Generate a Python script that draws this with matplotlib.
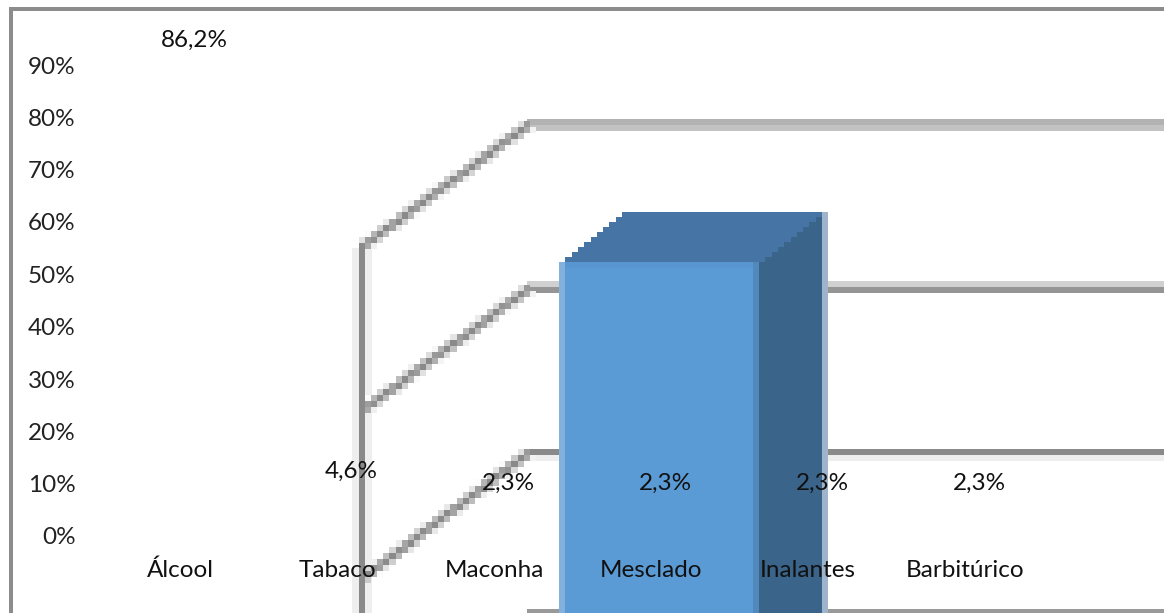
import matplotlib
matplotlib.use('Agg')
import numpy as np
from matplotlib import pyplot as plt
from matplotlib.patches import Polygon, Rectangle
from matplotlib.transforms import Affine2D

# Data
categories = ['Álcool', 'Tabaco', 'Maconha', 'Mesclado', 'Inalantes', 'Barbitúrico']
values = [86.2, 4.6, 2.3, 2.3, 2.3, 2.3]
y_ticks = [0, 10, 20, 30, 40, 50, 60, 70, 80, 90]
y_tick_labels = ['0%', '10%', '20%', '30%', '40%', '50%', '60%', '70%', '80%', '90%']

# The stray 3D box sits around Mesclado and runs off the bottom of the picture
box_position = 3.051
box_width = 1.274
box_top = 52.4
box_bottom = -15.0

W, H = 1164, 613
plt.rcParams['font.family'] = ['Lato', 'DejaVu Sans']
plt.rcParams['font.size'] = 17.5

fig = plt.figure(figsize=(W / 100, H / 100), dpi=100)
# Category 0 sits at x=180 px, spacing 157 px; 0% at y=536 px, 90% at y=65 px
ax = fig.add_axes([101.5 / W, (H - 536) / H, 942 / W, 471 / H])
ax.patch.set_alpha(0)
ax.set_xlim(-0.5, 5.5)
ax.set_ylim(0, 90)

# Wall and depth pieces are positioned in image pixels
px = Affine2D().scale(1, -1).translate(0, H)


def px_rect(x0, y0, x1, y1, color, z=1.0):
    ax.add_patch(Rectangle((x0, y0), x1 - x0, y1 - y0, transform=px, facecolor=color,
                           edgecolor='none', clip_on=False, zorder=z))


def px_poly(points, color, z=1.1):
    ax.add_patch(Polygon(points, closed=True, transform=px, facecolor=color,
                         edgecolor='none', clip_on=False, zorder=z))


def stairs(x0, y0, x1, y1, cell=6.1):
    # Staircase outline between two points, as in the enlarged bitmap
    n = int(round(abs(x1 - x0) / cell))
    xs = np.linspace(x0, x1, n + 1)
    ys = np.linspace(y0, y1, n + 1)
    points = []
    for i in range(n):
        points += [(xs[i], ys[i]), (xs[i + 1], ys[i])]
    points.append((x1, y1))
    return points


def blocky_line(x0, y0, x1, y1, cell=6.1, half=4.2, z=1.02):
    # The source was enlarged from a small bitmap, so the diagonals are coarse squares
    length = np.hypot(x1 - x0, y1 - y0)
    nx, ny = (y1 - y0) / length, (x0 - x1) / length
    for cx in np.arange(x0 - cell, x1 + cell, cell):
        for cy in np.arange(min(y0, y1) - 2 * cell, max(y0, y1) + 2 * cell, cell):
            t = ((cx - x0) * (x1 - x0) + (cy - y0) * (y1 - y0)) / length ** 2
            if t < 0 or t > 1:
                continue
            d = abs((cx - x0) * nx + (cy - y0) * ny)
            shade = np.clip((half + cell / 2 - d) / cell, 0, 1)
            if shade > 0.02:
                level = 1 - shade * (1 - 0x8a / 255)
                px_rect(cx - cell / 2, cy - cell / 2, cx + cell / 2, cy + cell / 2,
                        (level, level, level), z)


# Outer frame
px_rect(9, 7, W, 11, '#8c8c8c')
px_rect(9, 7, 13, H, '#8c8c8c')

# Back wall lines: upper and lower half have different greys
px_rect(527, 119, W, 125, '#b2b2b2')
px_rect(527, 125, W, 131, '#c2c2c2')
px_rect(527, 281, W, 287, '#d0d0d0')
px_rect(527, 287, W, 293, '#959595')
px_rect(527, 449, W, 455, '#8a8a8a')
px_rect(527, 455, W, 461, '#eeeeee')
px_rect(527, 609, W, H, '#999999')

# Side wall
px_rect(352, 248, 372, H, '#eeeeee')
for y_start, y_end in [(247, 124), (411, 288), (579, 452)]:
    blocky_line(362, y_start, 530, y_end)
px_rect(359, 248, 365, H, '#8a8a8a', z=1.03)

# Box depth faces
px_rect(822, 212, 828, H, '#9fb4cb', z=1.05)
px_poly(stairs(559, 262, 622, 212) + stairs(759, 262, 822, 212)[::-1], '#4675a5')
px_poly(stairs(759, 262, 822, 212) + [(822, H), (759, H)], '#3a6489', z=1.15)

# Box front face
ax.bar([box_position], [box_top - box_bottom], width=box_width, bottom=box_bottom,
       color='#5b9bd5', clip_on=False, zorder=1.2)
px_rect(559, 262, 565, H, '#84b0de', z=1.3)
px_rect(753, 262, 759, H, '#5289bd', z=1.3)
px_rect(565, 262, 753, 268, '#5796d0', z=1.3)

# Value labels float about 40-45 px above the value and a little to the right
for i, v in enumerate(values):
    ax.annotate(f'{v:.1f}%'.replace('.', ','), xy=(i, v), xytext=(10.4, 28.8 + v * 0.04),
                textcoords='offset points', ha='center', va='center', color='#111111')

ax.set_xticks(range(len(categories)))
ax.set_xticklabels(categories, color='#111111')
ax.set_yticks(y_ticks)
ax.set_yticklabels(y_tick_labels, color='#222222')
ax.tick_params(axis='x', length=0, pad=17)
ax.tick_params(axis='y', length=0, pad=18.7)
ax.set_axisbelow(False)
for spine in ax.spines.values():
    spine.set_visible(False)

fig.savefig('out.png', dpi=100)
